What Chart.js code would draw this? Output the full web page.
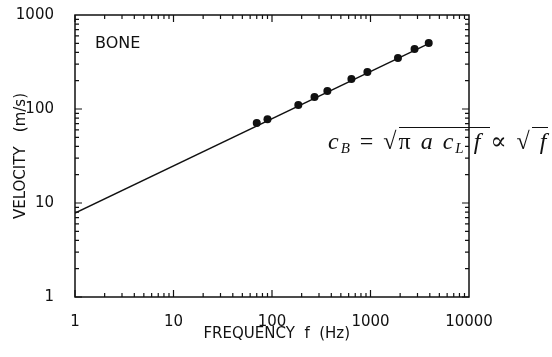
<!DOCTYPE html>
<html>
<head>
<meta charset="utf-8">
<script src="https://cdn.jsdelivr.net/npm/chart.js@4.4.0/dist/chart.umd.min.js"></script>
<style>
body { margin: 0; background: #fff; }
#wrap { position: relative; width: 552px; height: 357px; overflow: hidden; }
#formula {
    position: absolute; left: 328px; top: 129px;
    font-family: "Liberation Serif", "DejaVu Serif", serif;
    font-size: 24px; line-height: 24px; letter-spacing: 2px;
    white-space: nowrap; color: #111;
}
#formula sub { font-size: 15px; line-height: 0; vertical-align: -4px; }
.ov { border-top: 1.3px solid #111; }
</style>
</head>
<body>
<div id="wrap">
    <canvas id="boneChart" width="552" height="357"></canvas>
    <div id="formula"><i>c</i><sub><i>B</i></sub> = √<span class="ov">π <i>a</i> <i>c</i><sub><i>L</i></sub> <i>f</i> </span> ∝ √<span class="ov"> <i>f</i> </span></div>
</div>
<script>
// measured points (frequency in Hz, velocity in m/s)
const freqHz = [70, 90, 185, 270, 365, 640, 930, 1900, 2800, 3900];
const velocity = [71, 78, 110, 134, 155, 208, 248, 349, 435, 504];

// fitted line c ~ sqrt(f)
const fitFreq = [1, 3900];
const fitVel = [7.8, 496];

const xTicks = [1, 10, 100, 1000, 10000];
const yTicks = [1, 10, 100, 1000];

const fontName = '"DejaVu Sans", Verdana, sans-serif';

// box + inward log ticks on all four sides
const boxTicks = {
    id: 'boxTicks',
    afterDraw(chart) {
        const ctx = chart.ctx;
        const a = chart.chartArea;
        const xs = chart.scales.x, ys = chart.scales.y;
        ctx.save();
        ctx.strokeStyle = '#111';
        ctx.lineWidth = 1.5;
        ctx.strokeRect(a.left, a.top, a.right - a.left, a.bottom - a.top);
        ctx.lineWidth = 1.2;
        ctx.beginPath();
        for (let d = 0; d < 4; d++) {
            for (let k = 1; k <= 9; k++) {
                const v = k * Math.pow(10, d);
                const px = xs.getPixelForValue(v);
                const len = k === 1 ? 7 : 4;
                ctx.moveTo(px, a.bottom); ctx.lineTo(px, a.bottom - len);
                ctx.moveTo(px, a.top); ctx.lineTo(px, a.top + len);
            }
        }
        for (let d = 0; d < 3; d++) {
            for (let k = 1; k <= 9; k++) {
                const v = k * Math.pow(10, d);
                const py = ys.getPixelForValue(v);
                const len = k === 1 ? 7 : 4;
                ctx.moveTo(a.left, py); ctx.lineTo(a.left + len, py);
                ctx.moveTo(a.right, py); ctx.lineTo(a.right - len, py);
            }
        }
        ctx.stroke();
        ctx.fillStyle = '#111';
        ctx.font = '16px ' + fontName;
        ctx.textBaseline = 'middle';
        ctx.fillText('BONE', a.left + 20, a.top + 29);
        ctx.restore();
    }
};

function showChart() {
    const ctx = document.getElementById('boneChart');
    new Chart(ctx, {
        type: 'line',
        data: {
            datasets: [{
                label: 'fit',
                data: fitFreq.map((f, i) => ({ x: f, y: fitVel[i] })),
                borderColor: '#111',
                borderWidth: 1.4,
                pointRadius: 0,
                fill: false
            }, {
                label: 'bone',
                data: freqHz.map((f, i) => ({ x: f, y: velocity[i] })),
                showLine: false,
                pointRadius: 4,
                pointBackgroundColor: '#111',
                pointBorderColor: '#111',
                pointBorderWidth: 0
            }]
        },
        options: {
            responsive: false,
            animation: false,
            layout: { padding: { top: 15, right: 83, left: 0, bottom: 0 } },
            plugins: { legend: { display: false }, tooltip: { enabled: false } },
            scales: {
                x: {
                    type: 'logarithmic',
                    min: 1, max: 10000,
                    afterBuildTicks: (s) => { s.ticks = xTicks.map(v => ({ value: v })); },
                    afterFit: (s) => { s.height = 60; s.paddingLeft = 0; s.paddingRight = 0; },
                    grid: { display: false },
                    border: { display: false },
                    ticks: {
                        color: '#111', padding: 8,
                        font: { family: fontName, size: 15 },
                        callback: (v) => String(v), maxRotation: 0
                    },
                    title: {
                        display: true, text: '  FREQUENCY  f  (Hz)', color: '#111',
                        font: { family: fontName, size: 15 }, padding: { top: 0, bottom: 14 }
                    }
                },
                y: {
                    type: 'logarithmic',
                    min: 1, max: 1000,
                    afterBuildTicks: (s) => { s.ticks = yTicks.map(v => ({ value: v })); },
                    afterFit: (s) => { s.width = 75; s.paddingTop = 0; s.paddingBottom = 0; },
                    grid: { display: false },
                    border: { display: false },
                    ticks: {
                        color: '#111', padding: 13,
                        font: { family: fontName, size: 15 },
                        callback: (v) => String(v)
                    },
                    title: {
                        display: true, text: 'VELOCITY   (m/s)', color: '#111',
                        font: { family: fontName, size: 15 }, padding: { top: 12, bottom: 0 }
                    }
                }
            }
        },
        plugins: [boxTicks]
    });
}

window.onload = showChart;
</script>
</body>
</html>
